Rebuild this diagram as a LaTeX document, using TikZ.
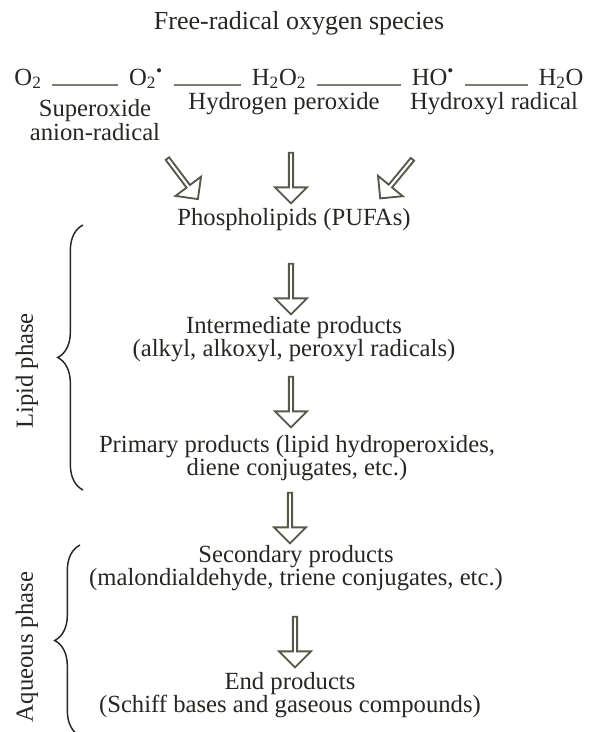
\documentclass[tikz,border=0pt]{standalone}
\usepackage{fontspec}
\setmainfont{Liberation Serif}
\usepackage{tikz}
\usetikzlibrary{calc,shapes,arrows,decorations.pathreplacing}

\definecolor{inkdark}{RGB}{38,38,34}
\definecolor{arrowgray}{RGB}{88,88,74}
\definecolor{linegray}{RGB}{125,125,110}

\begin{document}
\begin{tikzpicture}[x=0.75pt,y=-0.75pt]
          %% FREE RADICALS AND LIPID PEROXIDATION
          \useasboundingbox (0,0) rectangle (591,732);

          \tikzstyle{every node}=[text=inkdark,inner sep=1pt,font=\fontsize{18.5}{17.6}\selectfont]
          \tikzstyle{blockarrow}=[single arrow,draw=arrowgray,line width=1.4pt,fill=white,
                minimum height=38pt,minimum width=24pt,single arrow head extend=4.5pt,inner sep=0pt]
          \tikzstyle{bond}=[draw=linegray,line width=1.5pt,shorten <=7pt,shorten >=7pt]
          \tikzstyle{phase}=[decorate,decoration={brace,amplitude=19pt},draw=inkdark,line width=1.1pt]

          \node (title) at (299,23) {\fontsize{19.5}{20}\selectfont Free-radical oxygen species};

          % les especes
          \node[anchor=base] (O2) at (28,85) {O\textsubscript{2}};
          \node[anchor=base] (SO) at (146,85) {O\textsubscript{2}\textsuperscript{\textbullet}};
          \node[anchor=base] (HP) at (279,85) {H\textsubscript{2}O\textsubscript{2}};
          \node[anchor=base] (HR) at (433,85) {HO\textsuperscript{\textbullet}};
          \node[anchor=base] (W) at (561,85) {H\textsubscript{2}O};

          \draw[bond] (O2.base east) -- (SO.base west);
          \draw[bond] (SO.base east) -- (HP.base west);
          \draw[bond] (HP.base east) -- (HR.base west);
          \draw[bond] (HR.base east) -- (W.base west);

          \node[align=center] (SOname) at (95,120) {Superoxide\\anion-radical};
          \node (HPname) at (284,104) {Hydrogen peroxide};
          \node (HRname) at (494,104) {Hydroxyl radical};

          % la chaine
          \node (PL) at (294,220) {Phospholipids (PUFAs)};
          \node[align=center] (INT) at (294,339) {Intermediate products\\(alkyl, alkoxyl, peroxyl radicals)};
          \node[align=center] (PRI) at (297,458) {Primary products (lipid hydroperoxides,\\diene conjugates, etc.)};
          \node[align=center] (SEC) at (296,568) {Secondary products\\(malondialdehyde, triene conjugates, etc.)};
          \node[align=center] (END) at (290,695) {End products\\(Schiff bases and gaseous compounds)};

          % fleches
          \node[blockarrow,rotate=-53] (A1) at (182,178) {};
          \node[blockarrow,rotate=-90] (A2) at (291,177) {};
          \node[blockarrow,rotate=-129.5] (A3) at (397,178) {};
          \node[blockarrow,rotate=-90] (A4) at (291,288) {};
          \node[blockarrow,rotate=-90] (A5) at (291,401) {};
          \node[blockarrow,rotate=-90] (A6) at (290,517) {};
          \node[blockarrow,rotate=-90] (A7) at (295,641) {};

          % les phases
          \coordinate (LIPtop) at (83,225);
          \coordinate (LIPbot) at (83,490);
          \coordinate (AQtop) at (80,545);
          \coordinate (AQbot) at (80,736);
          \draw[phase] (LIPbot) -- (LIPtop);
          \draw[phase] (AQbot) -- (AQtop);
          \node[rotate=90] (LIP) at (27,371) {Lipid phase};
          \node[rotate=90] (AQ) at (27,647) {Aqueous phase};
\end{tikzpicture}
\end{document}
